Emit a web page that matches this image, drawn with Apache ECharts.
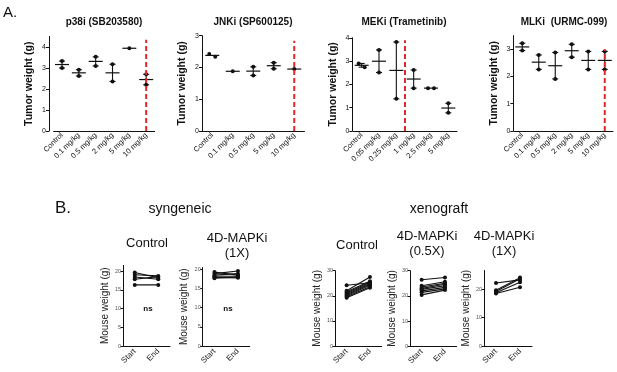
<!DOCTYPE html>
<html>
<head>
<meta charset="utf-8">
<style>
html, body { margin: 0; padding: 0; background: #fff; }
#chart { width: 617px; height: 372px; }
</style>
<script src="https://cdn.jsdelivr.net/npm/echarts@6.0.0/dist/echarts.min.js"></script>
</head>
<body>
<div id="chart"></div>
<script>
var chart = echarts.init(document.getElementById('chart'));

// ---- A: tumour weight (g), one list of mice per dose ----
var p38Doses = ['Control', '0.1 mg/kg', '0.5 mg/kg', '2 mg/kg', '5 mg/kg', '10 mg/kg'];
var p38Weights = [[3.33, 3.00], [2.92, 2.62], [3.53, 3.10], [3.18, 2.36], [3.94], [2.70, 2.20]];
var p38Ticks = [0, 1, 2, 3, 4];
var p38Cut = [5, 4.35];            // dose index, top of red line

var jnkDoses = ['Control', '0.1 mg/kg', '0.5 mg/kg', '5 mg/kg', '10 mg/kg'];
var jnkWeights = [[2.42, 2.34], [1.88], [2.02, 1.75], [2.15, 1.96], [1.95]];
var jnkTicks = [0, 1, 2, 3];
var jnkCut = [4, 2.84];

var mekDoses = ['Control', '0.05 mg/kg', '0.25 mg/kg', '1 mg/kg', '2.5 mg/kg', '5 mg/kg'];
var mekWeights = [[2.90, 2.74], [3.48, 2.51], [3.82, 1.38], [2.62, 1.84], [1.84, 1.84], [1.19, 0.78]];
var mekTicks = [0, 1, 2, 3, 4];
var mekCut = [2.5, 3.9];

var mlkDoses = ['Control', '0.1 mg/kg', '0.5 mg/kg', '2 mg/kg', '5 mg/kg', '10 mg/kg'];
var mlkWeights = [[3.22, 2.95], [2.79, 2.26], [2.88, 1.91], [3.18, 2.71], [2.92, 2.26], [2.92, 2.26]];
var mlkTicks = [0, 1, 2, 3];
var mlkCut = [5, 3.0];

// ---- B: mouse weight (g) at start and end ----
var phases = ['Start', 'End'];
var synCtrlStart = [19.6, 19.0, 18.4, 17.8, 16.3];
var synCtrlEnd   = [18.2, 18.7, 17.8, 18.5, 16.3];
var syn1xStart = [19.3, 18.9, 18.5, 18.2, 17.9, 17.7];
var syn1xEnd   = [18.5, 19.6, 18.9, 18.2, 17.8, 18.0];
var xenoCtrlStart = [24.2, 22.0, 21.6, 21.2, 20.8, 20.4, 20.0, 19.6, 19.2];
var xenoCtrlEnd   = [25.2, 27.5, 25.8, 25.4, 25.0, 24.6, 24.2, 23.6, 23.2];
var xenoHalfStart = [26.4, 24.0, 23.5, 23.0, 22.6, 22.0, 21.4, 20.4];
var xenoHalfEnd   = [27.3, 25.6, 25.0, 24.6, 24.0, 23.4, 22.8, 22.3];
var xeno1xStart = [22.1, 19.6, 19.1, 18.7, 18.4];
var xeno1xEnd   = [23.2, 24.0, 23.6, 22.4, 20.6];
var synTicks = [0, 5, 10, 15, 20];
var xenoTicks = [0, 10, 20, 30];
var xeno1xTicks = [0, 10, 20];

var panelsA = [
  { title: 'p38i (SB203580)', doses: p38Doses, w: p38Weights, ticks: p38Ticks, cut: p38Cut, max: 4.5,
    box: { left: 53.6, top: 36.5, width: 101, height: 94.5 }, offset: 4.6, cx: 104 },
  { title: 'JNKi (SP600125)', doses: jnkDoses, w: jnkWeights, ticks: jnkTicks, cut: jnkCut, max: 3,
    box: { left: 202, top: 35.7, width: 102.5, height: 95.3 }, offset: 0, cx: 253 },
  { title: 'MEKi (Trametinib)', doses: mekDoses, w: mekWeights, ticks: mekTicks, cut: mekCut, max: 4,
    box: { left: 353, top: 37.8, width: 104, height: 93.2 }, offset: 0.7, cx: 404 },
  { title: 'MLKi  (URMC-099)', doses: mlkDoses, w: mlkWeights, ticks: mlkTicks, cut: mlkCut, max: 3.5,
    box: { left: 514, top: 35.6, width: 99, height: 95.4 }, offset: 0.7, cx: 564 }
];

var panelsB = [
  { start: synCtrlStart, end: synCtrlEnd, ticks: synTicks, max: 21.5,
    box: { left: 123, top: 265.4, width: 47, height: 80.6 } },
  { start: syn1xStart, end: syn1xEnd, ticks: synTicks, max: 20.5,
    box: { left: 202.7, top: 267.5, width: 47, height: 78.5 } },
  { start: xenoCtrlStart, end: xenoCtrlEnd, ticks: xenoTicks, max: 30,
    box: { left: 335, top: 270.7, width: 46.6, height: 75.3 } },
  { start: xenoHalfStart, end: xenoHalfEnd, ticks: xenoTicks, max: 30,
    box: { left: 410, top: 270.7, width: 46.6, height: 75.6 } },
  { start: xeno1xStart, end: xeno1xEnd, ticks: xeno1xTicks, max: 26.5,
    box: { left: 484, top: 270.5, width: 48, height: 75.5 } }
];

var ink = '#111';
var grids = [], xAxes = [], yAxes = [], series = [];

function mean(a) { return a.reduce(function (s, v) { return s + v; }, 0) / a.length; }

// mean line, range bar with caps, and the mice as dots
function groupItem(weights) {
  return function (params, api) {
    var i = api.value(0);
    var vals = weights[params.dataIndex];
    var c = api.coord([i, api.value(1)]);
    var kids = [];
    function ln(x1, y1, x2, y2, w) {
      kids.push({ type: 'line', shape: { x1: x1, y1: y1, x2: x2, y2: y2 }, style: { stroke: ink, lineWidth: w || 1 } });
    }
    ln(c[0] - 7, c[1], c[0] + 7, c[1], 1.2);
    var hi = api.coord([i, api.value(3)]), lo = api.coord([i, api.value(2)]);
    if (lo[1] - hi[1] > 3) {
      ln(c[0], hi[1], c[0], lo[1], 1.1);
      ln(c[0] - 3, hi[1], c[0] + 3, hi[1], 1.1);
      ln(c[0] - 3, lo[1], c[0] + 3, lo[1], 1.1);
    }
    var ys = vals.map(function (v) { return api.coord([i, v])[1]; });
    var close = ys.length === 2 && Math.abs(ys[0] - ys[1]) < 4;
    ys.forEach(function (y, k) {
      kids.push({ type: 'circle', shape: { cx: c[0] + (close ? (k ? 3 : -3) : 0), cy: y, r: 2 }, style: { fill: ink } });
    });
    return { type: 'group', children: kids };
  };
}

function cutItem(cut) {
  return function (params, api) {
    var f = Math.floor(cut[0]), g = Math.ceil(cut[0]);
    var a = api.coord([f, 0]), b = api.coord([g, 0]);
    var x = a[0] + (b[0] - a[0]) * (cut[0] - f);
    var top = api.coord([f, cut[1]])[1];
    return { type: 'line', shape: { x1: x, y1: a[1], x2: x, y2: top },
      style: { stroke: '#e3262b', lineWidth: 2, lineDash: [5, 3] } };
  };
}

var axisLine = { show: true, lineStyle: { color: ink, width: 1 } };

panelsA.forEach(function (p, k) {
  grids.push(p.box);
  xAxes.push({
    gridIndex: k, type: 'category', data: p.doses, boundaryGap: true,
    axisLine: axisLine, axisTick: { alignWithLabel: true, length: 3, lineStyle: { color: ink } },
    axisLabel: { rotate: 45, fontSize: 7.5, color: ink, margin: 3, interval: 0 }, splitLine: { show: false }
  });
  yAxes.push({
    gridIndex: k, type: 'value', min: 0, max: p.max, offset: p.offset,
    name: 'Tumor weight (g)', nameLocation: 'middle', nameGap: 14,
    nameTextStyle: { fontSize: 10.5, fontWeight: 'bold', color: ink },
    axisLine: axisLine, axisTick: { show: true, length: 3, customValues: p.ticks, lineStyle: { color: ink } },
    axisLabel: { fontSize: 7, color: ink, margin: 3, customValues: p.ticks }, splitLine: { show: false }
  });
  series.push({
    type: 'custom', xAxisIndex: k, yAxisIndex: k, clip: false,
    data: p.w.map(function (v, i) { return [i, mean(v), Math.min.apply(null, v), Math.max.apply(null, v)]; }),
    renderItem: groupItem(p.w)
  });
  series.push({
    type: 'custom', xAxisIndex: k, yAxisIndex: k, clip: false,
    data: [[0, p.cut[1]]], renderItem: cutItem(p.cut)
  });
});

panelsB.forEach(function (p, j) {
  var k = panelsA.length + j;
  grids.push(p.box);
  xAxes.push({
    gridIndex: k, type: 'category', data: phases, boundaryGap: true,
    axisLine: axisLine, axisTick: { alignWithLabel: true, length: 3, lineStyle: { color: ink } },
    axisLabel: { rotate: 45, fontSize: 8, color: '#222', margin: 4, interval: 0 }
  });
  yAxes.push({
    gridIndex: k, type: 'value', min: 0, max: p.max,
    name: 'Mouse weight (g)', nameLocation: 'middle', nameGap: 13,
    nameTextStyle: { fontSize: 10, color: '#222' },
    axisLine: axisLine, axisTick: { show: true, length: 2.5, customValues: p.ticks, lineStyle: { color: ink } },
    axisLabel: { fontSize: 5.5, color: '#555', margin: 2, customValues: p.ticks }, splitLine: { show: false }
  });
  p.start.forEach(function (s, m) {
    series.push({
      type: 'line', xAxisIndex: k, yAxisIndex: k, data: [s, p.end[m]],
      symbol: 'circle', symbolSize: 4, lineStyle: { color: ink, width: 1.1 }, itemStyle: { color: ink }
    });
  });
});

function txt(x, y, s, size, weight) {
  return { type: 'text', x: x, y: y,
    style: { text: s, fontSize: size, fontWeight: weight || 'normal', fill: ink,
      align: 'center', verticalAlign: 'middle', fontFamily: 'Liberation Sans' } };
}

var labels = [
  { type: 'text', x: 3, y: 13, style: { text: 'A.', fontSize: 15, fill: ink, verticalAlign: 'middle', fontFamily: 'Liberation Sans' } },
  { type: 'text', x: 55, y: 208, style: { text: 'B.', fontSize: 17, fill: ink, verticalAlign: 'middle', fontFamily: 'Liberation Sans' } },
  txt(180, 209, 'syngeneic', 14),
  txt(439, 209, 'xenograft', 14),
  txt(147, 243, 'Control', 13),
  txt(237, 238, '4D-MAPKi', 13),
  txt(237, 253, '(1X)', 13),
  txt(357, 245, 'Control', 13),
  txt(427, 236, '4D-MAPKi', 13),
  txt(427, 251, '(0.5X)', 13),
  txt(504, 236, '4D-MAPKi', 13),
  txt(504, 251, '(1X)', 13),
  txt(148, 309, 'ns', 8, 'bold'),
  txt(228, 309, 'ns', 8, 'bold')
];
panelsA.forEach(function (p) { labels.push(txt(p.cx, 22, p.title, 10, 'bold')); });

chart.setOption({
  animation: false,
  textStyle: { fontFamily: 'Liberation Sans' },
  grid: grids,
  xAxis: xAxes,
  yAxis: yAxes,
  series: series,
  graphic: labels
});
</script>
</body>
</html>
